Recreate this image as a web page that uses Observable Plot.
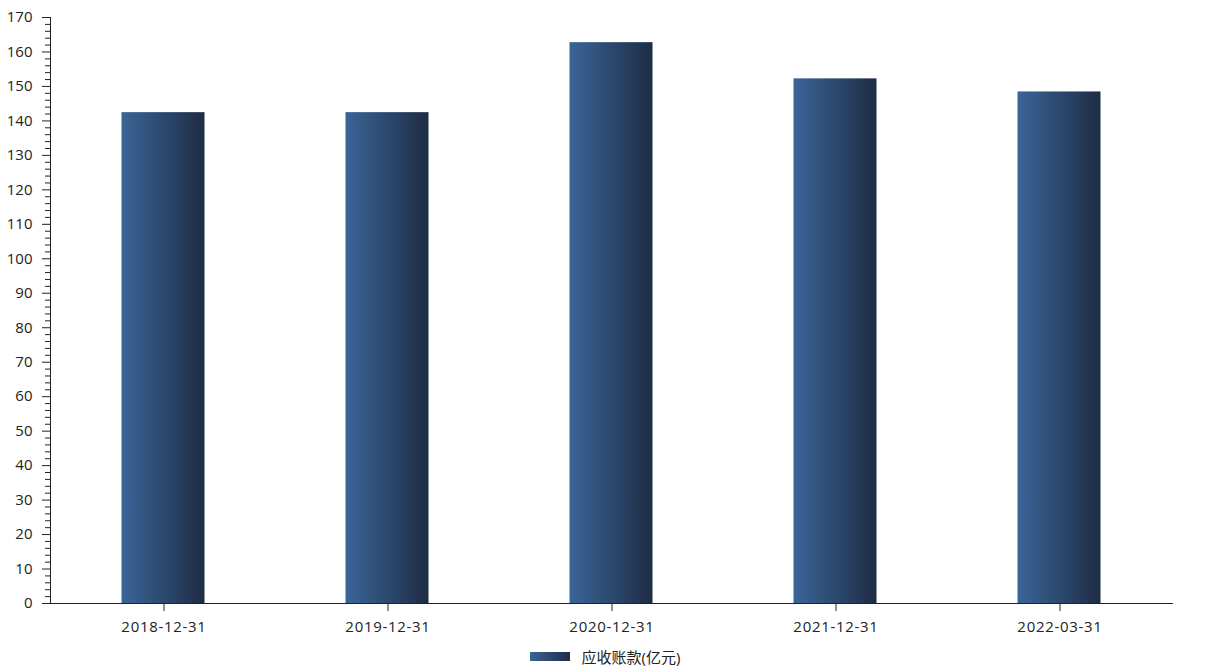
<!DOCTYPE html>
<html>
<head>
<meta charset="utf-8">
<script src="https://cdn.jsdelivr.net/npm/d3@7"></script>
<script src="https://cdn.jsdelivr.net/npm/@observablehq/plot@0.6"></script>
<style>
  body { margin: 0; background: #fff; font-family: "Open Sans", "Noto Sans CJK SC", sans-serif; }
  #legend { display: flex; justify-content: center; align-items: center; height: 32px; font-size: 15px; color: #222; padding-left: 4px; }
  #legend .sw { width: 40px; height: 9px; background: linear-gradient(to right, #3a6597, #1e2c46); margin-right: 12px; }
  g[aria-label="x-axis tick label"] text { letter-spacing: 0.7px; }
</style>
</head>
<body>
<div id="chart"></div>
<div id="legend"><span class="sw"></span><span>应收账款(亿元)</span></div>
<script>
const dates = ["2018-12-31", "2019-12-31", "2020-12-31", "2021-12-31", "2022-03-31"];
const receivables = [142.4, 142.4, 162.7, 152.2, 148.4];
const seriesName = "应收账款(亿元)";
const majorTicks = d3.range(0, 171, 10);
const minorTicks = d3.range(0, 171, 2).filter(v => v % 10 !== 0);

const data = dates.map((d, i) => ({date: d, value: receivables[i]}));

const chart = Plot.plot({
  width: 1206,
  height: 640,
  marginLeft: 50,
  marginRight: 33,
  marginTop: 17,
  marginBottom: 37,
  style: {fontFamily: "'Open Sans', 'Noto Sans CJK SC', sans-serif", fontSize: "15px", color: "#222", background: "#fff"},
  x: {domain: dates, paddingInner: 0.63, paddingOuter: 0.315, label: null},
  y: {domain: [0, 170], label: null},
  marks: [
    Plot.barY(data, {x: "date", y: "value", fill: "url(#barGrad)", dx: -0.5}),
    Plot.axisY({ticks: majorTicks, tickSize: 8, tickPadding: 10, stroke: "#222", fill: "#222", fontSize: 15}),
    Plot.axisY({ticks: minorTicks, tickSize: 5, text: null, stroke: "#222"}),
    Plot.axisX({tickSize: 8, tickPadding: 10, stroke: "#222", fill: "#222", fontSize: 15}),
    Plot.ruleY([0], {stroke: "#222"}),
    Plot.frame({anchor: "left", stroke: "#222"})
  ]
});

const ns = "http://www.w3.org/2000/svg";
const defs = document.createElementNS(ns, "defs");
defs.innerHTML = '<linearGradient id="barGrad" x1="0" y1="0" x2="1" y2="0"><stop offset="0" stop-color="#3a6597"/><stop offset="1" stop-color="#1e2c46"/></linearGradient>';
chart.insertBefore(defs, chart.firstChild);
document.getElementById("chart").appendChild(chart);
</script>
</body>
</html>
